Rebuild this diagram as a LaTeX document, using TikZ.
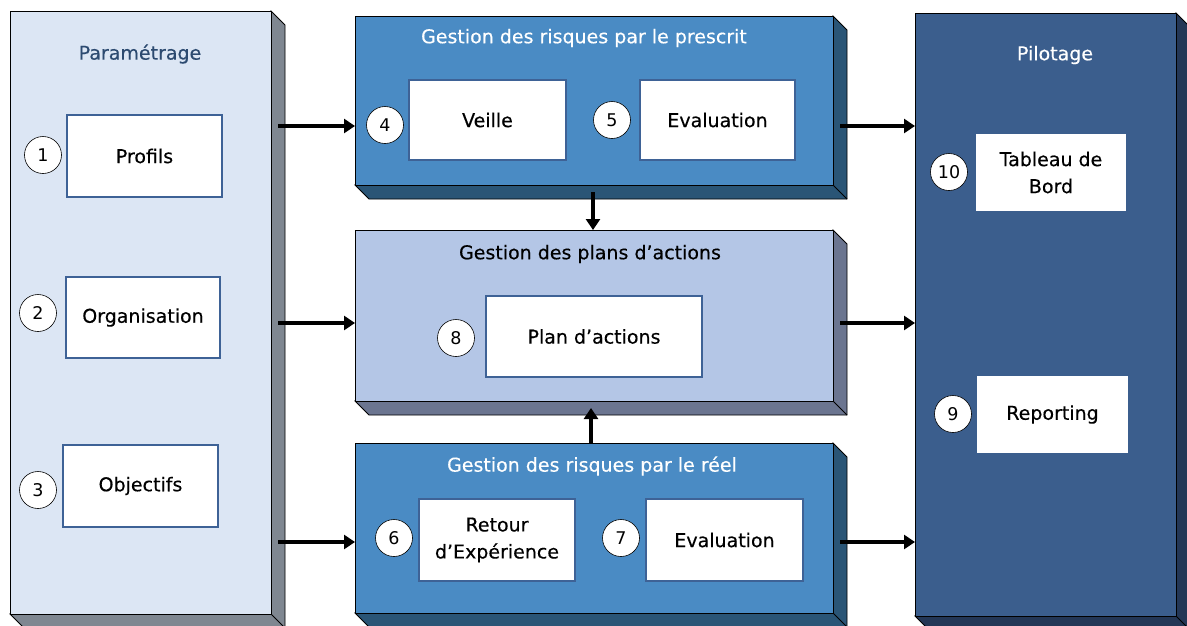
\documentclass[tikz,border=0pt]{standalone}
\usepackage{fontspec}
\setmainfont{DejaVu Sans}
\newfontfamily\semib[FakeBold=0.35]{DejaVu Sans}
\usetikzlibrary{arrows.meta,calc}
\definecolor{paramf}{HTML}{DCE6F4}
\definecolor{params}{HTML}{7F8791}
\definecolor{paramt}{HTML}{2C4A70}
\definecolor{gestf}{HTML}{4A8BC4}
\definecolor{gests}{HTML}{2A5576}
\definecolor{planf}{HTML}{B4C6E6}
\definecolor{plans}{HTML}{6B7590}
\definecolor{pilotf}{HTML}{3B5E8D}
\definecolor{pilots}{HTML}{243756}
\definecolor{innerb}{HTML}{3E6296}
\newcommand\slab[7]{%
  \fill[#7,draw=black,line width=0.8pt] (#4,#3) -- ++(14,14) -- ({#4+14},{#5+14}) -- ({#2+14},{#5+14}) -- (#2,#5) -- (#4,#5) -- cycle;
  \draw[black,line width=0.8pt] (#4,#5) -- ++(14,14);
  \node[front, fill=#6, minimum width={#4-#2}, minimum height={#5-#3}] (#1) at (#2,#3) {};
}
\begin{document}
\begin{tikzpicture}[x=1pt,y=-1pt,
  front/.style={draw=black, line width=0.8pt, inner sep=0pt, outer sep=0pt, anchor=north west},
  inner/.style={draw=innerb, line width=2.5pt, fill=white, inner sep=0pt, align=center, font=\semib\fontsize{19}{27}\selectfont},
  plain/.style={fill=white, inner sep=0pt, align=center, font=\semib\fontsize{19}{27}\selectfont},
  num/.style={circle, draw=black, line width=0.6pt, fill=white, minimum size=37pt, inner sep=0pt, font=\fontsize{17.5}{17.5}\selectfont},
  arr/.style={line width=4pt, -{Triangle[length=11pt,width=14pt]}},
  ttl/.style={font=\semib\fontsize{19}{23}\selectfont, inner sep=0pt}]
\useasboundingbox (0,0) rectangle (1187,625);
\fill[white] (0,0) rectangle (1187,625);

\slab{param}{10}{11}{271}{614}{paramf}{params}
\slab{prescrit}{355}{16}{833}{185}{gestf}{gests}
\slab{plans}{355}{230}{833}{401}{planf}{plans}
\slab{reel}{355}{443}{833}{613}{gestf}{gests}
\slab{pilot}{915}{13}{1176}{616}{pilotf}{pilots}

% titles
\node[ttl, text=paramt] (tparam) at (140,54) {Paramétrage};
\node[ttl, text=white] (tprescrit) at (584,38) {Gestion des risques par le prescrit};
\node[ttl, text=black] (tplans) at (590,254) {Gestion des plans d’actions};
\node[ttl, text=white] (treel) at (592,466) {Gestion des risques par le réel};
\node[ttl, text=white] (tpilot) at (1055,55) {Pilotage};

% inner boxes
\node[inner, minimum width=155pt, minimum height=82pt] (profils) at (144.5,156) {Profils};
\node[inner, minimum width=154pt, minimum height=81pt] (orga) at (143,317.5) {Organisation};
\node[inner, minimum width=155pt, minimum height=82pt] (obj) at (140.5,486) {Objectifs};
\node[inner, minimum width=157pt, minimum height=80pt] (veille) at (487.5,120) {Veille};
\node[inner, minimum width=155pt, minimum height=80pt] (eval1) at (717.5,120) {Evaluation};
\node[inner, minimum width=216pt, minimum height=81pt] (plan) at (594,336.5) {Plan d’actions};
\node[inner, minimum width=156pt, minimum height=82pt] (retour) at (497,540) {Retour\\d’Expérience};
\node[inner, minimum width=157pt, minimum height=82pt] (eval2) at (724.5,540) {Evaluation};
\node[plain, minimum width=150pt, minimum height=77pt] (tableau) at (1051,172.5) {Tableau de\\Bord};
\node[plain, minimum width=151pt, minimum height=77pt] (reporting) at (1052.5,414.5) {Reporting};

% number circles
\node[num] (c1) at (43,155) {1};
\node[num] (c2) at (38,313) {2};
\node[num] (c3) at (38,490) {3};
\node[num] (c4) at (385,125) {4};
\node[num] (c5) at (612,120) {5};
\node[num] (c6) at (394,538) {6};
\node[num] (c7) at (621,538) {7};
\node[num] (c8) at (456,338) {8};
\node[num] (c9) at (953,414) {9};
\node[num] (c10) at (949,172) {10};

% arrows
\draw[arr] ([xshift=7pt]param.east |- 0,126) -- (prescrit.west |- 0,126);
\draw[arr] ([xshift=7pt]param.east |- 0,323) -- (plans.west |- 0,323);
\draw[arr] ([xshift=7pt]param.east |- 0,542) -- (reel.west |- 0,542);
\draw[arr] ([xshift=7pt]prescrit.east |- 0,126) -- (pilot.west |- 0,126);
\draw[arr] ([xshift=7pt]plans.east |- 0,323) -- (pilot.west |- 0,323);
\draw[arr] ([xshift=7pt]reel.east |- 0,542) -- (pilot.west |- 0,542);
\draw[arr] ([yshift=-7pt]prescrit.south -| 593,0) -- (plans.north -| 593,0);
\draw[arr] (reel.north -| 591,0) -- ([yshift=-7pt]plans.south -| 591,0);
\end{tikzpicture}
\end{document}
